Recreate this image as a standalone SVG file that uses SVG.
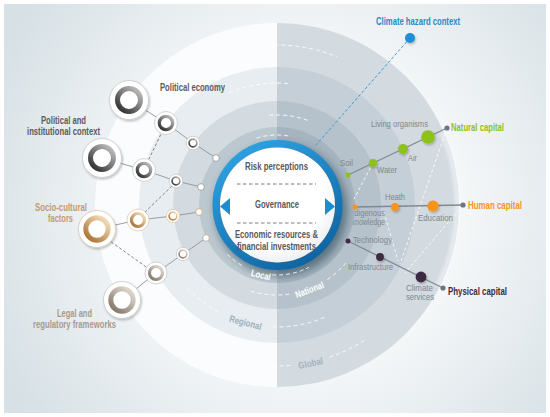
<svg xmlns="http://www.w3.org/2000/svg" width="550" height="417" viewBox="0 0 550 417">
<defs>
  <radialGradient id="bg" gradientUnits="userSpaceOnUse" cx="300" cy="210" r="340">
    <stop offset="0" stop-color="#ffffff"/>
    <stop offset="0.45" stop-color="#f6f8f9"/>
    <stop offset="1" stop-color="#d6e0e5"/>
  </radialGradient>
  <linearGradient id="blueRing" x1="0.2" y1="0" x2="0.8" y2="1">
    <stop offset="0" stop-color="#2ea2e2"/>
    <stop offset="1" stop-color="#0e62a0"/>
  </linearGradient>
  <radialGradient id="whiteDisc" cx="0.45" cy="0.4" r="0.65">
    <stop offset="0.7" stop-color="#ffffff"/>
    <stop offset="1" stop-color="#e8ecef"/>
  </radialGradient>
  <linearGradient id="gDark" x1="0.85" y1="0.1" x2="0.15" y2="0.9">
    <stop offset="0" stop-color="#b4b4b4"/>
    <stop offset="1" stop-color="#3a3a3a"/>
  </linearGradient>
  <linearGradient id="gTan" x1="0.85" y1="0.1" x2="0.15" y2="0.9">
    <stop offset="0" stop-color="#efd8b4"/>
    <stop offset="1" stop-color="#b07a3c"/>
  </linearGradient>
  <linearGradient id="gTaupe" x1="0.85" y1="0.1" x2="0.15" y2="0.9">
    <stop offset="0" stop-color="#ddd5cb"/>
    <stop offset="1" stop-color="#8a7d70"/>
  </linearGradient>
  <filter id="blur4" x="-30%" y="-30%" width="160%" height="160%"><feGaussianBlur stdDeviation="4"/></filter>
  <filter id="blur2" x="-20%" y="-20%" width="140%" height="140%"><feGaussianBlur stdDeviation="1.8"/></filter>
  <filter id="sh" x="-50%" y="-50%" width="200%" height="200%"><feDropShadow dx="1" dy="1.5" stdDeviation="1.2" flood-color="#000" flood-opacity="0.25"/></filter>
  <clipPath id="localClip"><circle cx="277" cy="205" r="79"/></clipPath>
  <clipPath id="outsideLocal"><path clip-rule="evenodd" d="M0,0H550V417H0Z M355,205A78,78 0 1 0 199,205A78,78 0 1 0 355,205Z"/></clipPath>
</defs>
<style>
  text{font-family:'Liberation Sans Narrow','Liberation Sans',Arial,sans-serif}
  .lbl{font-weight:bold;font-size:10.5px;fill:#5b5b5b}
  .ctr{font-weight:bold;font-size:10.5px;fill:#58595b}
  .sm{font-size:9px;fill:#7d8890}
  .cap{font-weight:bold;font-size:10px}
  .rt{font-weight:bold;font-size:9.5px}
  .wd{fill:none;stroke:#ffffff;stroke-width:1;stroke-dasharray:4 3;opacity:0.85}
  .ln{fill:none;stroke:#8d949b;stroke-width:0.9}
  .dl{fill:none;stroke:#7b7b7b;stroke-width:0.9;stroke-dasharray:3 2}
  .outer{fill:#ffffff;stroke:#c6c8ca;stroke-width:0.8}
  .cl{fill:none;stroke:#7f8994;stroke-width:1.3}
</style>

<rect x="0" y="0" width="550" height="417" fill="#ffffff"/>
<rect x="4" y="4" width="542" height="409" fill="url(#bg)"/>

<g id="rings">
  <circle cx="277" cy="205" r="182" fill="#fbfcfd"/>
  <circle cx="277" cy="205" r="138" fill="#e7edf0"/>
  <circle cx="277" cy="205" r="104" fill="#d3dbe0"/>
  <circle cx="277" cy="205" r="78" fill="#bcc8cf"/>
  <path d="M277,23 A182,182 0 0 1 277,387 Z" fill="#6a8298" opacity="0.28"/>
  <path class="wd" d="M246.5,47.9 A160,160 0 0 1 336.9,56.7"/>
  <path class="wd" d="M211.5,352.1 A161,161 0 0 0 293.8,365.1"/>
  <path class="wd" d="M329.4,357.2 A161,161 0 0 0 364.7,340"/>
  <path class="wd" d="M229.3,92.7 A122,122 0 0 1 289.8,83.7"/>
  <path class="wd" d="M187.8,288.2 A122,122 0 0 0 217.9,311.7"/>
  <path class="wd" d="M272.7,326.9 A122,122 0 0 0 326.6,316.4"/>
  <path class="wd" d="M269.2,115.3 A90,90 0 0 1 307.8,120.4"/>
  <path class="wd" d="M250.7,291.1 A90,90 0 0 0 291.1,293.9"/>
  <path class="wd" d="M327.3,279.6 A90,90 0 0 0 345.9,262.9"/>
  <text class="rt" transform="translate(245.4,322.8) rotate(15)" text-anchor="middle" dy="3" fill="#9fb0bd" textLength="33" lengthAdjust="spacingAndGlyphs">Regional</text>
  <text class="rt" transform="translate(310.7,363.5) rotate(-12)" text-anchor="middle" dy="3" fill="#a3b1bc" textLength="25" lengthAdjust="spacingAndGlyphs">Global</text>
  <text class="rt" transform="translate(309.6,290) rotate(-21)" text-anchor="middle" dy="3" fill="#ffffff" textLength="30" lengthAdjust="spacingAndGlyphs">National</text>
  <path d="M441.4,131.8 A180,180 0 0 1 437.4,286.7" fill="none" stroke="#ffffff" stroke-width="5" opacity="0.45" filter="url(#blur2)"/>
</g>

<g id="center">
  <g clip-path="url(#localClip)">
    <circle cx="281" cy="210" r="66" fill="#213e4e" opacity="0.55" filter="url(#blur4)"/>
  </g>
  <path class="wd" d="M256.5,138.1 A70,70 0 0 1 290.4,136.3"/>
  <path class="wd" d="M227.5,254.5 A70,70 0 0 0 242,265.6"/>
  <path class="wd" d="M272.1,274.8 A70,70 0 0 0 308.8,267.4"/>
  <text class="rt" transform="translate(260.8,275.2) rotate(13)" text-anchor="middle" dy="3" fill="#ffffff" textLength="20" lengthAdjust="spacingAndGlyphs">Local</text>
  <circle cx="277.5" cy="205" r="61.3" fill="none" stroke="url(#blueRing)" stroke-width="7.5"/>
  <circle cx="277.5" cy="205" r="57.5" fill="url(#whiteDisc)"/>
  <text class="ctr" x="245" y="170" textLength="63" lengthAdjust="spacingAndGlyphs">Risk perceptions</text>
  <line x1="237" y1="184" x2="316" y2="184" stroke="#6d6e70" stroke-width="0.9" stroke-dasharray="3.5 2.5"/>
  <text class="ctr" x="255" y="208" textLength="44" lengthAdjust="spacingAndGlyphs">Governance</text>
  <line x1="237" y1="223" x2="316" y2="223" stroke="#6d6e70" stroke-width="0.9" stroke-dasharray="3.5 2.5"/>
  <text class="ctr" x="235" y="238" textLength="83" lengthAdjust="spacingAndGlyphs">Economic resources &amp;</text>
  <text class="ctr" x="237" y="250" textLength="79" lengthAdjust="spacingAndGlyphs">financial investments</text>
  <polygon points="220,206.5 230,198 230,215" fill="#1a8ed3"/>
  <polygon points="335,206.5 325,198 325,215" fill="#1a8ed3"/>
</g>

<g id="connectors">
  <polyline class="ln" points="129,100 166,123 193,143 216,158"/>
  <polyline class="ln" points="102,158 144,170 176,181 201,187"/>
  <polyline class="ln" points="97,229 138,220 173,216 199,212"/>
  <polyline class="ln" points="122,300 156,273 183,254 206,238"/>
  <line class="dl" x1="163" y1="130" x2="147" y2="163"/>
  <line class="dl" x1="172" y1="186" x2="142" y2="215"/>
  <line class="dl" x1="107" y1="239" x2="149" y2="269"/>
  <g class="wd" style="stroke-dasharray:3 2.5">
    <line x1="447" y1="128" x2="400" y2="264"/>
    <line x1="463" y1="205" x2="405" y2="273"/>
    <line x1="373" y1="163" x2="354" y2="199"/>
    <line x1="384" y1="212" x2="398" y2="261"/>
  </g>
  <line x1="410" y1="38" x2="316" y2="145" stroke="#3a9ad8" stroke-width="1" stroke-dasharray="3 2"/>
  <line class="cl" x1="348" y1="175" x2="447" y2="128"/>
  <line class="cl" x1="355" y1="207" x2="463" y2="205"/>
  <line class="cl" x1="348" y1="241" x2="443" y2="288"/>
</g>

<g id="political-economy">
  <circle class="outer" cx="129" cy="100" r="19.5" filter="url(#sh)"/>
  <circle cx="129" cy="100" r="11.5" fill="#fff" stroke="url(#gDark)" stroke-width="5"/>
  <circle class="outer" cx="166" cy="123" r="11.5"/>
  <circle cx="166" cy="123" r="6.7" fill="#fff" stroke="url(#gDark)" stroke-width="3.3"/>
  <circle class="outer" cx="193" cy="143" r="6.8"/>
  <circle cx="193" cy="143" r="3.9" fill="#fff" stroke="url(#gDark)" stroke-width="1.7"/>
  <circle cx="216" cy="158" r="3.4" fill="#fff" stroke="#9a9a9a" stroke-width="0.9"/>
  <text class="lbl" x="160" y="91" textLength="65" lengthAdjust="spacingAndGlyphs">Political economy</text>
</g>

<g id="political-institutional">
  <circle class="outer" cx="102" cy="158" r="19.5" filter="url(#sh)"/>
  <circle cx="102" cy="158" r="11.5" fill="#fff" stroke="url(#gDark)" stroke-width="5"/>
  <circle class="outer" cx="144" cy="170" r="11.5"/>
  <circle cx="144" cy="170" r="6.7" fill="#fff" stroke="url(#gDark)" stroke-width="3.3"/>
  <circle class="outer" cx="176" cy="181" r="6.8"/>
  <circle cx="176" cy="181" r="3.9" fill="#fff" stroke="url(#gDark)" stroke-width="1.7"/>
  <circle cx="201" cy="187" r="3.4" fill="#fff" stroke="#9a9a9a" stroke-width="0.9"/>
  <text class="lbl" x="41" y="124" textLength="45" lengthAdjust="spacingAndGlyphs">Political and</text>
  <text class="lbl" x="27" y="135" textLength="73" lengthAdjust="spacingAndGlyphs">institutional context</text>
</g>

<g id="socio-cultural">
  <circle class="outer" cx="97" cy="229" r="18.5" filter="url(#sh)" style="stroke:#dcc9b0"/>
  <circle cx="97" cy="229" r="11.2" fill="#fff" stroke="url(#gTan)" stroke-width="5"/>
  <circle class="outer" cx="138" cy="220" r="11" style="stroke:#dcc9b0"/>
  <circle cx="138" cy="220" r="6.5" fill="#fff" stroke="url(#gTan)" stroke-width="3.2"/>
  <circle class="outer" cx="173" cy="216" r="6.6" style="stroke:#dcc9b0"/>
  <circle cx="173" cy="216" r="3.9" fill="#fff" stroke="url(#gTan)" stroke-width="1.7"/>
  <circle cx="199" cy="212" r="3.4" fill="#fff" stroke="#c9a87e" stroke-width="0.9"/>
  <text class="lbl" x="35" y="211" textLength="52" lengthAdjust="spacingAndGlyphs" style="fill:#c39b6c">Socio-cultural</text>
  <text class="lbl" x="48" y="222" textLength="25" lengthAdjust="spacingAndGlyphs" style="fill:#c39b6c">factors</text>
</g>

<g id="legal-regulatory">
  <circle class="outer" cx="122" cy="300" r="18.5" filter="url(#sh)"/>
  <circle cx="122" cy="300" r="11.2" fill="#fff" stroke="url(#gTaupe)" stroke-width="5"/>
  <circle class="outer" cx="156" cy="273" r="11"/>
  <circle cx="156" cy="273" r="6.5" fill="#fff" stroke="url(#gTaupe)" stroke-width="3.2"/>
  <circle class="outer" cx="183" cy="254" r="6.6"/>
  <circle cx="183" cy="254" r="3.9" fill="#fff" stroke="url(#gTaupe)" stroke-width="1.7"/>
  <circle cx="206" cy="238" r="3.4" fill="#fff" stroke="#b5aa9e" stroke-width="0.9"/>
  <text class="lbl" x="57" y="317" textLength="35" lengthAdjust="spacingAndGlyphs" style="fill:#a69a8e">Legal and</text>
  <text class="lbl" x="33" y="328" textLength="83" lengthAdjust="spacingAndGlyphs" style="fill:#a69a8e">regulatory frameworks</text>
</g>

<g id="climate-hazard">
  <circle cx="410" cy="38" r="5" fill="#1b8fd6" filter="url(#sh)"/>
  <text class="cap" x="376" y="25" textLength="84" lengthAdjust="spacingAndGlyphs" fill="#1e8ccf">Climate hazard context</text>
</g>

<g id="natural-capital">
  <circle cx="348" cy="175" r="2.5" fill="#8dc21f"/>
  <circle cx="373" cy="163" r="4" fill="#8dc21f" filter="url(#sh)"/>
  <circle cx="403" cy="149" r="5" fill="#8dc21f" filter="url(#sh)"/>
  <circle cx="428" cy="137" r="6.8" fill="#8dc21f" filter="url(#sh)"/>
  <circle cx="447" cy="128" r="2.6" fill="#6b7684"/>
  <text class="sm" x="340" y="166" textLength="13" lengthAdjust="spacingAndGlyphs">Soil</text>
  <text class="sm" x="377" y="173" textLength="20" lengthAdjust="spacingAndGlyphs">Water</text>
  <text class="sm" x="408" y="161" textLength="9" lengthAdjust="spacingAndGlyphs">Air</text>
  <text class="sm" x="371" y="127" textLength="57" lengthAdjust="spacingAndGlyphs">Living organisms</text>
  <text class="cap" x="451" y="131" textLength="53" lengthAdjust="spacingAndGlyphs" fill="#8cc21e">Natural capital</text>
</g>

<g id="human-capital">
  <g clip-path="url(#outsideLocal)">
    <text class="sm" x="348" y="216" textLength="37" lengthAdjust="spacingAndGlyphs">Indigenous</text>
    <text class="sm" x="351.5" y="225" textLength="33.5" lengthAdjust="spacingAndGlyphs">knowledge</text>
  </g>
  <circle cx="355" cy="207" r="2.5" fill="#f7941d"/>
  <circle cx="395" cy="207" r="4" fill="#f7941d" filter="url(#sh)"/>
  <circle cx="433" cy="206" r="5.6" fill="#f7941d" filter="url(#sh)"/>
  <circle cx="463" cy="205" r="2.6" fill="#6b7684"/>
  <text class="sm" x="385" y="200" textLength="20" lengthAdjust="spacingAndGlyphs">Heath</text>
  <text class="sm" x="418" y="221" textLength="35" lengthAdjust="spacingAndGlyphs">Education</text>
  <text class="cap" x="468" y="209" textLength="54" lengthAdjust="spacingAndGlyphs" fill="#f7941d">Human capital</text>
</g>

<g id="physical-capital">
  <circle cx="348" cy="241" r="2.5" fill="#3e2a43"/>
  <circle cx="380" cy="257" r="3.9" fill="#3e2a43" filter="url(#sh)"/>
  <circle cx="421" cy="277" r="5.4" fill="#3e2a43" filter="url(#sh)"/>
  <circle cx="443" cy="288" r="2.6" fill="#6b7684"/>
  <text class="sm" x="353" y="243" textLength="39" lengthAdjust="spacingAndGlyphs">Technology</text>
  <text class="sm" x="348" y="270" textLength="45" lengthAdjust="spacingAndGlyphs">Infrastructure</text>
  <text class="sm" x="406" y="291" textLength="27" lengthAdjust="spacingAndGlyphs">Climate</text>
  <text class="sm" x="406" y="300" textLength="28" lengthAdjust="spacingAndGlyphs">services</text>
  <text class="cap" x="448" y="295" textLength="59" lengthAdjust="spacingAndGlyphs" fill="#3b2b3d">Physical capital</text>
</g>
</svg>
